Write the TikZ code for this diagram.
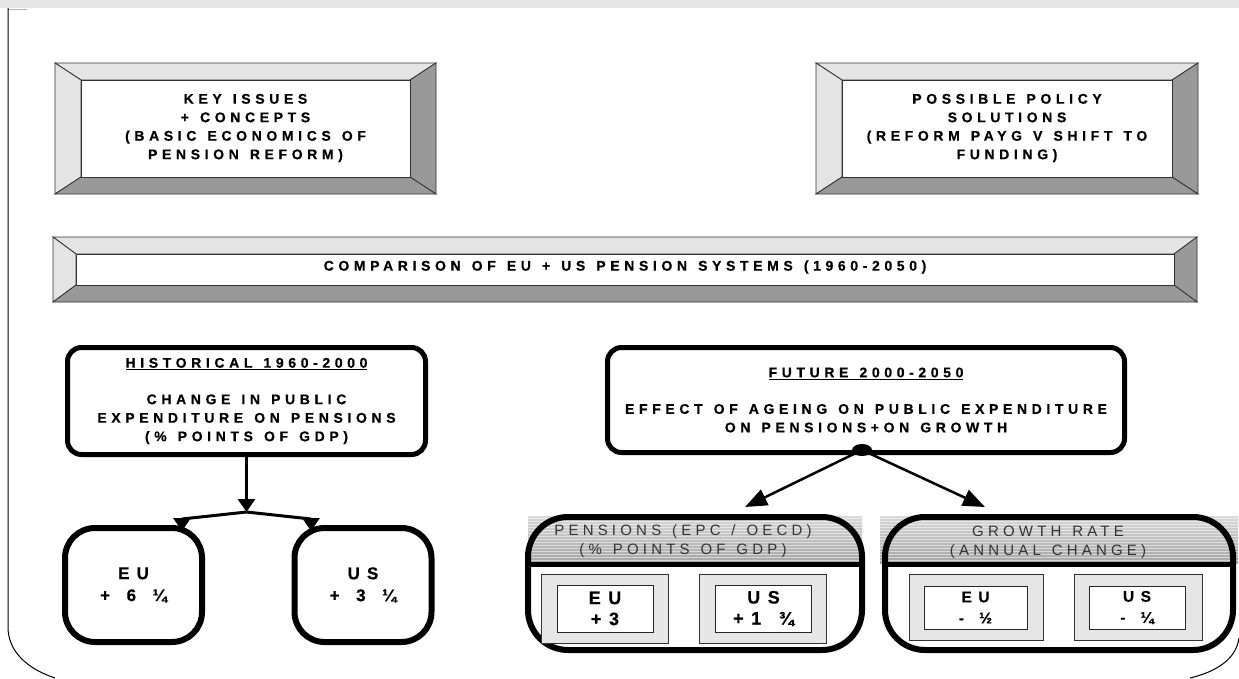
\documentclass[tikz,border=0pt]{standalone}
\usepackage{fontspec}
\setmainfont{Liberation Sans}
\newfontfamily\widefont[LetterSpace=33, WordSpace=1.3, BoldFeatures={FakeBold=0.6}]{Liberation Sans}
\newfontfamily\headfont[LetterSpace=28, WordSpace=1.3]{Liberation Sans}
\newfontfamily\valfont[LetterSpace=42, WordSpace=1.4, BoldFeatures={FakeBold=0.6}]{Liberation Sans}
\usetikzlibrary{arrows.meta,shapes.geometric}
\definecolor{bandgray}{HTML}{E6E6E6}
\definecolor{bevlight}{HTML}{E4E4E4}
\definecolor{bevdark}{HTML}{999999}
\definecolor{boxgray}{HTML}{E6E6E6}

% bevelled frame: outer corners (#1,#2) (#3,#4), bevel #5 wide, #6 high
\newcommand{\bevelbox}[6]{%
  \filldraw[bevel, fill=bevlight] (#1,#2) -- (#3,#2) -- ({#3-#5},{#2+#6}) -- ({#1+#5},{#2+#6}) -- cycle;
  \filldraw[bevel, fill=bevlight] (#1,#2) -- ({#1+#5},{#2+#6}) -- ({#1+#5},{#4-#6}) -- (#1,#4) -- cycle;
  \filldraw[bevel, fill=bevdark] (#3,#2) -- (#3,#4) -- ({#3-#5},{#4-#6}) -- ({#3-#5},{#2+#6}) -- cycle;
  \filldraw[bevel, fill=bevdark] (#1,#4) -- (#3,#4) -- ({#3-#5},{#4-#6}) -- ({#1+#5},{#4-#6}) -- cycle;
  \filldraw[bevel, fill=white] ({#1+#5},{#2+#6}) rectangle ({#3-#5},{#4-#6});
}

\begin{document}
\begin{tikzpicture}[x=1pt, y=-1pt,
bevel/.style={draw=black!80, line width=0.8pt},
bevtext/.style={font=\widefont\bfseries\fontsize{14}{18.5}\selectfont, align=center},
roundbox/.style={draw=black, line width=5pt, rounded corners=14pt, align=center,
  font=\widefont\bfseries\fontsize{14}{18.5}\selectfont},
valbox/.style={draw=black, line width=6pt, rounded corners=30pt, align=center,
  minimum width=137, minimum height=114, font=\valfont\bfseries\fontsize{17}{22}\selectfont},
capsule/.style={draw=black, line width=6pt, rounded corners=40pt, minimum height=133},
headtext/.style={font=\headfont\fontsize{15}{19}\selectfont, text=black!80, align=center},
outerbox/.style={draw=black!80, fill=boxgray, line width=0.8pt, minimum width=127, minimum height=69},
innerbox/.style={draw=black!85, fill=white, line width=1pt, align=center,
  minimum width=96, minimum height=47, font=\valfont\bfseries\fontsize{18}{21}\selectfont},
smallbox/.style={innerbox, minimum width=103, minimum height=43, font=\valfont\bfseries\fontsize{15.5}{21}\selectfont},
histarrow/.style={line width=3pt, -{Triangle[width=17pt, length=13pt]}},
hubarrow/.style={line width=2.5pt, -{Triangle[width=17pt, length=22pt]}},
frame/.style={draw=black, line width=1pt},
]
\useasboundingbox (0,0) rectangle (1239,678);

% page band and frame
\fill[bandgray] (0,0) rectangle (1239,8);
\draw[gray!60, line width=1pt] (8,9) -- (27,9);
\draw[frame] (8,8) -- (8,627) .. controls (8,652) and (28,669) .. (55,678);
\draw[frame] (1239,638) .. controls (1236,660) and (1215,672) .. (1190,678);

% bevelled title boxes
\bevelbox{55}{63}{436}{194}{26}{17}
\node[bevtext] (keyissues) at (245.5,128) {KEY ISSUES\\+ CONCEPTS\\(BASIC ECONOMICS OF\\PENSION REFORM)};
\bevelbox{816}{63}{1198}{194}{26}{17}
\node[bevtext] (policy) at (1007,128) {POSSIBLE POLICY\\SOLUTIONS\\(REFORM PAYG V SHIFT TO\\FUNDING)};
\bevelbox{53}{237}{1197}{302}{23}{17}
\node[bevtext] (compare) at (625,267) {COMPARISON OF EU + US PENSION SYSTEMS (1960-2050)};

% historical side
\node[roundbox, minimum width=358, minimum height=107] (hist) at (246.5,401)
  {\underline{HISTORICAL 1960-2000}\\[18pt]CHANGE IN PUBLIC\\EXPENDITURE ON PENSIONS\\(\% POINTS OF GDP)};
\node[valbox] (euhist) at (133.5,585) {EU\\+ 6 ¼};
\node[valbox] (ushist) at (363,585) {US\\+ 3 ¼};
\coordinate (fork) at (246.5,512);
\coordinate (eutip) at (182,531);
\coordinate (ustip) at (311,531);
\draw[histarrow] (hist.south) -- (fork);
\draw[histarrow] (fork) -- ([yshift=12pt]eutip) -- (eutip);
\draw[histarrow] (fork) -- ([yshift=12pt]ustip) -- (ustip);

% future side
\node[roundbox, minimum width=517, minimum height=105] (future) at (866,400)
  {\underline{FUTURE 2000-2050}\\[18pt]EFFECT OF AGEING ON PUBLIC EXPENDITURE\\ON PENSIONS+ON GROWTH};
\node[ellipse, fill=black, minimum width=20, minimum height=12, inner sep=0pt] (hub) at (862,450) {};
\coordinate (pentip) at (745,507);
\coordinate (growtip) at (985,507);
\draw[hubarrow] (hub) -- (pentip);
\draw[hubarrow] (hub) -- (growtip);

% striped headers
\shade[top color=gray!30, bottom color=gray!70] (528,516) rectangle (862,563);
\shade[top color=gray!30, bottom color=gray!70] (880,516) rectangle (1238,563);
\foreach \yy in {518,521,...,562}
  \draw[white, opacity=0.5, line width=0.7pt] (528,\yy) -- (862,\yy) (880,\yy) -- (1238,\yy);

% pensions panel
\node[capsule, minimum width=334] (pens) at (695,583.5) {};
\draw[line width=5pt] ([yshift=-50pt]pens.north west) -- ([yshift=-50pt]pens.north east);
\node[headtext] (penshead) at (683,541) {PENSIONS (EPC / OECD)\\(\% POINTS OF GDP)};
\node[outerbox] (peneubg) at (604.5,608.5) {};
\node[innerbox] (peneu) at (605,608.5) {EU\\+3};
\node[outerbox] (penusbg) at (763,608.5) {};
\node[innerbox] (penus) at (763.5,608.5) {US\\+1 ¾};

% growth panel
\node[capsule, minimum width=348] (grow) at (1059,583.5) {};
\draw[line width=5pt] ([yshift=-50pt]grow.north west) -- ([yshift=-50pt]grow.north east);
\node[headtext] (growhead) at (1048,542) {GROWTH RATE\\(ANNUAL CHANGE)};
\node[outerbox, minimum width=134, minimum height=66] (groeubg) at (976,607) {};
\node[smallbox] (groeu) at (975.5,607.5) {EU\\- ½};
\node[outerbox, minimum width=128, minimum height=66] (grousbg) at (1138,607) {};
\node[smallbox, minimum width=96] (grous) at (1137,607.5) {US\\- ¼};
\end{tikzpicture}
\end{document}
